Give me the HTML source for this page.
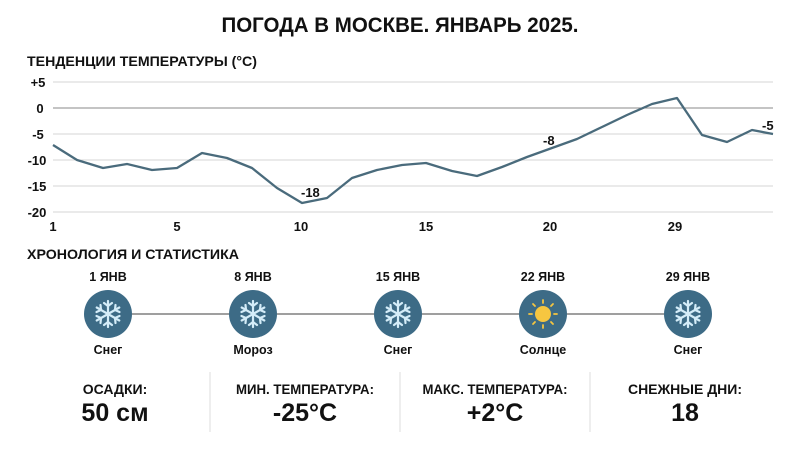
<!DOCTYPE html>
<html><head><meta charset="utf-8"><style>
html,body{margin:0;padding:0;background:#fff;}
svg{display:block;}
text{font-family:"Liberation Sans Narrow","Liberation Sans",sans-serif;font-weight:bold;fill:#111;}
</style></head><body>
<svg width="800" height="451" viewBox="0 0 800 451" xmlns="http://www.w3.org/2000/svg">
<defs>
<g id="flake" stroke="#d4ecf8" stroke-width="2.2" stroke-linecap="round" fill="none">
<path d="M0,-13V13M-11.3,-6.5L11.3,6.5M-11.3,6.5L11.3,-6.5"/>
<path d="M-4,-11L0,-8L4,-11M-4,11L0,8L4,11"/>
<path d="M-11.5,-2L-7,-4L-7.5,-9M11.5,2L7,4L7.5,9"/>
<path d="M-11.5,2L-7,4L-7.5,9M11.5,-2L7,-4L7.5,-9"/>
</g>
</defs>
<text x="400" y="32" text-anchor="middle" font-size="21" textLength="357" lengthAdjust="spacingAndGlyphs">ПОГОДА В МОСКВЕ. ЯНВАРЬ 2025.</text>
<text x="27" y="66" font-size="14" textLength="230" lengthAdjust="spacingAndGlyphs">ТЕНДЕНЦИИ ТЕМПЕРАТУРЫ (°C)</text>
<g stroke="#d6d6d6" stroke-width="1">
<line x1="53" y1="82" x2="773" y2="82"/><line x1="53" y1="134" x2="773" y2="134"/>
<line x1="53" y1="160" x2="773" y2="160"/><line x1="53" y1="186" x2="773" y2="186"/>
<line x1="53" y1="212" x2="773" y2="212"/>
</g>
<line x1="53" y1="108" x2="773" y2="108" stroke="#888" stroke-width="1"/>
<g font-size="13" text-anchor="middle">
<text x="38" y="87">+5</text><text x="40" y="113">0</text><text x="38" y="139">-5</text>
<text x="37" y="165">-10</text><text x="37" y="191">-15</text><text x="37" y="217">-20</text>
<text x="53" y="231">1</text><text x="177" y="231">5</text><text x="301" y="231">10</text>
<text x="426" y="231">15</text><text x="550" y="231">20</text><text x="675" y="231">29</text>
</g>
<polyline fill="none" stroke="#4a6b7c" stroke-width="2.3" stroke-linejoin="round" points="53,145 77,160 103,168 127,164 152,170 177,168 202,153 227,158 252,168 277,188 302,203 327,198 352,178 377,170 402,165 426,163 452,171 477,176 502,167 527,157 552,148 577,139 602,127 627,115 652,104 677,98 702,135 727,142 752,130 773,134"/>
<g font-size="13">
<text x="301" y="197">-18</text><text x="543" y="145">-8</text><text x="762" y="130">-5</text>
</g>
<text x="27" y="259" font-size="14" textLength="212" lengthAdjust="spacingAndGlyphs">ХРОНОЛОГИЯ И СТАТИСТИКА</text>
<line x1="108" y1="314" x2="688" y2="314" stroke="#666" stroke-width="1.3"/>
<g font-size="12.5" text-anchor="middle">
<text x="108" y="281">1 ЯНВ</text><text x="253" y="281">8 ЯНВ</text><text x="398" y="281">15 ЯНВ</text>
<text x="543" y="281">22 ЯНВ</text><text x="688" y="281">29 ЯНВ</text>
<text x="108" y="354">Снег</text><text x="253" y="354">Мороз</text><text x="398" y="354">Снег</text>
<text x="543" y="354">Солнце</text><text x="688" y="354">Снег</text>
</g>
<g fill="#3d6b86">
<circle cx="108" cy="314" r="24"/><circle cx="253" cy="314" r="24"/><circle cx="398" cy="314" r="24"/>
<circle cx="543" cy="314" r="24"/><circle cx="688" cy="314" r="24"/>
</g>
<use href="#flake" x="108" y="314"/><use href="#flake" x="253" y="314"/>
<use href="#flake" x="398" y="314"/><use href="#flake" x="688" y="314"/>
<circle cx="543" cy="314" r="8" fill="#f6c640"/>
<g stroke="#f6c640" stroke-width="1.8" stroke-linecap="round">
<line x1="543" y1="300" x2="543" y2="303"/><line x1="543" y1="325" x2="543" y2="328"/>
<line x1="529" y1="314" x2="532" y2="314"/><line x1="554" y1="314" x2="557" y2="314"/>
<line x1="533" y1="304" x2="535" y2="306"/><line x1="551" y1="322" x2="553" y2="324"/>
<line x1="553" y1="304" x2="551" y2="306"/><line x1="535" y1="322" x2="533" y2="324"/>
</g>
<g stroke="#ddd" stroke-width="1">
<line x1="210" y1="372" x2="210" y2="432"/><line x1="400" y1="372" x2="400" y2="432"/><line x1="590" y1="372" x2="590" y2="432"/>
</g>
<g text-anchor="middle">
<text x="115" y="394" font-size="14">ОСАДКИ:</text>
<text x="305" y="394" font-size="14" textLength="138" lengthAdjust="spacingAndGlyphs">МИН. ТЕМПЕРАТУРА:</text>
<text x="495" y="394" font-size="14" textLength="145" lengthAdjust="spacingAndGlyphs">МАКС. ТЕМПЕРАТУРА:</text>
<text x="685" y="394" font-size="14">СНЕЖНЫЕ ДНИ:</text>
<text x="115" y="421" font-size="25">50 см</text>
<text x="305" y="421" font-size="25">-25°C</text>
<text x="495" y="421" font-size="25">+2°C</text>
<text x="685" y="421" font-size="25">18</text>
</g>
</svg>
</body></html>
